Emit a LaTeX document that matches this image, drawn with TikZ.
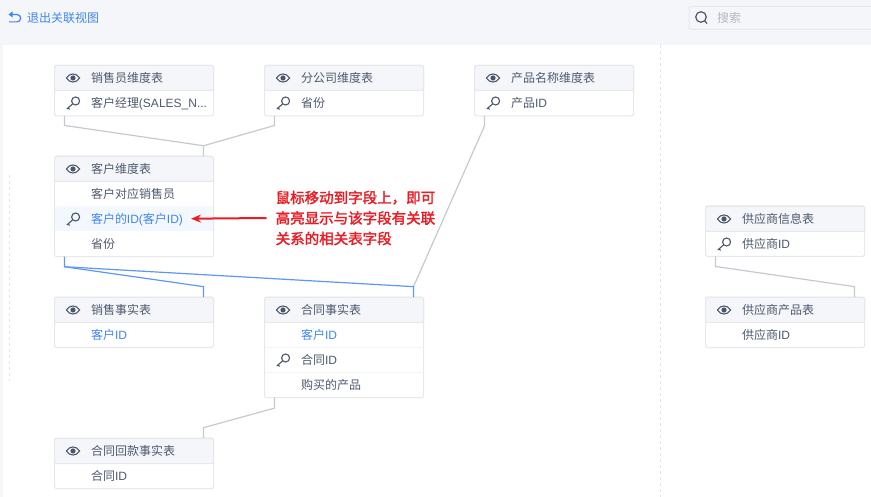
\documentclass[tikz,border=0pt]{standalone}
\usepackage{fontspec}
\setmainfont{Noto Sans CJK SC}
\newfontfamily\latfont{Liberation Sans}
\newfontfamily\notefont[FakeBold=2]{Noto Sans CJK SC}
\newcommand{\lat}[1]{{\latfont #1}}
\usetikzlibrary{arrows.meta}
\definecolor{pagebg}{HTML}{F5F6F9}
\definecolor{tabline}{HTML}{E6E8EC}
\definecolor{rowline}{HTML}{F2F3F5}
\definecolor{textgray}{HTML}{4E5A70}
\definecolor{icongray}{HTML}{4A566C}
\definecolor{linkblue}{HTML}{3F86F2}
\definecolor{hilite}{HTML}{F3F7FE}
\definecolor{joingray}{HTML}{C6C9D1}
\definecolor{dashgray}{HTML}{E3E5E9}
\definecolor{notered}{HTML}{EC1C24}
\definecolor{hintgray}{HTML}{B4B9C3}
\tikzset{
  tabframe/.style={draw=tabline, fill=white, line width=1pt, rounded corners=1.5pt, minimum width=159pt, inner sep=0pt, outer sep=0pt},
  tabrow/.style={text width=159pt, minimum height=25pt, inner xsep=0pt, inner ysep=0pt, outer sep=0pt, align=left, text height=10.5pt, text depth=1.5pt,
    font=\fontsize{12}{14}\selectfont, text=textgray, execute at begin node={\hspace*{36.5pt}}},
  tabhead/.style={tabrow, draw=tabline, fill=pagebg, line width=1pt, rounded corners=1.5pt},
  joinline/.style={draw=joingray, line width=1.2pt},
  keyline/.style={draw=linkblue!85, line width=1.2pt},
  every pic/.style={color=icongray},
  eyeicon/.pic={
    \draw[line width=1.1pt] (-6.7,0) .. controls (-3,-5.4) and (3,-5.4) .. (6.7,0) .. controls (3,5.4) and (-3,5.4) .. (-6.7,0);
    \fill (0,0) circle (2.6);
  },
  keyicon/.pic={
    \draw[line width=1.1pt] (2.6,-2) circle (4);
    \draw[line width=1.1pt] (-0.3,0.8) -- (-6.2,6) (-5,4.9) -- (-3.4,6.4);
  }
}
\begin{document}
\begin{tikzpicture}[x=1pt, y=-1pt]
  \useasboundingbox (0,0) rectangle (871,497);
  \fill[pagebg] (0,0) rectangle (871,497);
  \fill[white] (3,45) rectangle (871,497);
  \draw[dashgray, dashed] (660,45) -- (660,497);
  \draw[dashgray, dashed] (9,175) -- (9,381);

  \node[anchor=west, inner sep=0pt, text=linkblue, font=\fontsize{12}{14}\selectfont] (back) at (27,18) {退出关联视图};
  \draw[linkblue, line width=1.2pt] (11,14.5) -- (17,14.5) arc (-90:90:3.7) -- (9,21.9);
  \fill[linkblue] (8.5,14.5) -- (12.5,11.5) -- (12.5,17.5) -- cycle;
  \node[draw=tabline, fill=pagebg, line width=1pt, rounded corners=1.5pt, minimum width=190pt, minimum height=23pt, inner sep=0pt, anchor=west] (search) at (688.5,18) {};
  \node[anchor=west, inner sep=0pt, text=hintgray, font=\fontsize{12}{14}\selectfont] (searchtxt) at (717,18) {搜索};
  \draw[icongray, line width=1.2pt] (701,17) circle (5.3) (704.8,21) -- (707,23.5);

  \node[tabframe, minimum height=50.5pt] (seller) at (134,90.7) {};
  \node[tabhead] (sellerhd) at (134,78) {销售员维度表};
  \node[tabrow] (sellermgr) at (134,103) {客户经理\lat{(SALES\_N...}};
  \pic at (73,78) {eyeicon};
  \pic at (73,103) {keyicon};

  \node[tabframe, minimum height=50.5pt] (branch) at (344,90.7) {};
  \node[tabhead] (branchhd) at (344,78) {分公司维度表};
  \node[tabrow] (branchpv) at (344,103) {省份};
  \pic at (283,78) {eyeicon};
  \pic at (283,103) {keyicon};

  \node[tabframe, minimum height=50.5pt] (prod) at (554,90.7) {};
  \node[tabhead] (prodhd) at (554,78) {产品名称维度表};
  \node[tabrow] (prodid) at (554,103) {产品\lat{ID}};
  \pic at (493,78) {eyeicon};
  \pic at (493,103) {keyicon};

  \node[tabframe, minimum height=100.5pt] (cust) at (134,206.5) {};
  \node[tabhead] (custhd) at (134,169) {客户维度表};
  \node[tabrow] (custsale) at (134,194) {客户对应销售员};
  \node[tabrow, fill=hilite, text=linkblue, minimum width=158pt, text width=158pt] (custid) at (134,218.7) {\hspace*{-0.5pt}客户的\lat{ID(}客户\lat{ID)}};
  \node[tabrow] (custpv) at (134,244) {省份};
  \pic at (73,169) {eyeicon};
  \pic[color=linkblue] at (73,219) {keyicon};

  \node[tabframe, minimum height=50.5pt] (sales) at (134,322.4) {};
  \node[tabhead] (saleshd) at (134,310) {销售事实表};
  \node[tabrow, text=linkblue] (salesid) at (134,335) {客户\lat{ID}};
  \pic at (73,310) {eyeicon};

  \node[tabframe, minimum height=100.5pt] (deal) at (344,347.4) {};
  \node[tabhead] (dealhd) at (344,310) {合同事实表};
  \node[tabrow, text=linkblue] (dealcust) at (344,335) {客户\lat{ID}};
  \node[tabrow] (dealid) at (344,360) {合同\lat{ID}};
  \node[tabrow] (dealgoods) at (344,385) {购买的产品};
  \draw[rowline] (dealcust.south west) -- (dealcust.south east);
  \draw[rowline] (dealid.south west) -- (dealid.south east);
  \pic at (283,310) {eyeicon};
  \pic at (283,360) {keyicon};

  \node[tabframe, minimum height=50.5pt] (refund) at (134,463.4) {};
  \node[tabhead] (refundhd) at (134,451) {合同回款事实表};
  \node[tabrow] (refundid) at (134,476) {合同\lat{ID}};
  \pic at (73,451) {eyeicon};

  \node[tabframe, minimum height=50.5pt] (supply) at (785,231.2) {};
  \node[tabhead] (supplyhd) at (785,219) {供应商信息表};
  \node[tabrow] (supplyid) at (785,244) {供应商\lat{ID}};
  \pic at (724,219) {eyeicon};
  \pic at (724,244) {keyicon};

  \node[tabframe, minimum height=50.5pt] (supprod) at (785,322.4) {};
  \node[tabhead] (supprodhd) at (785,310) {供应商产品表};
  \node[tabrow] (supprodid) at (785,335) {供应商\lat{ID}};
  \pic at (724,310) {eyeicon};

  \draw[joinline] ([xshift=10pt]seller.south west) -- ++(0,9.5) -- ([xshift=-10pt,yshift=10.5pt]cust.north east) -- ([xshift=-10pt]cust.north east);
  \draw[joinline] ([xshift=10pt]branch.south west) -- ++(0,9.5) -- ([xshift=-10pt,yshift=10.5pt]cust.north east);
  \draw[joinline] ([xshift=10pt]prod.south west) -- ++(0,10) -- ([xshift=-10pt,yshift=10.5pt]deal.north east);
  \draw[joinline] ([xshift=10pt]deal.south west) -- ++(0,10.5) -- ([xshift=-10pt,yshift=10.5pt]refund.north east) -- ([xshift=-10pt]refund.north east);
  \draw[joinline] ([xshift=10pt]supply.south west) -- ++(0,10) -- ([xshift=-10pt,yshift=10.5pt]supprod.north east) -- ([xshift=-10pt]supprod.north east);
  \draw[keyline] ([xshift=10pt]cust.south west) -- ++(0,10) -- ([xshift=-10pt,yshift=10.5pt]sales.north east) -- ([xshift=-10pt]sales.north east);
  \draw[keyline] ([xshift=10pt,yshift=-10pt]cust.south west) -- ([xshift=-10pt,yshift=10.5pt]deal.north east) -- ([xshift=-10pt]deal.north east);

  \node[anchor=west, inner sep=0pt, align=left, text=notered, font=\notefont\fontsize{14.5}{20.5}\selectfont] (note) at (275.5,218) {鼠标移动到字段上，即可\\高亮显示与该字段有关联\\关系的相关表字段};
  \draw[-{Stealth[length=10pt,width=8pt]}, notered, line width=2pt] ([xshift=-9pt]note.west) -- ([xshift=-22pt]custid.east);
\end{tikzpicture}
\end{document}
